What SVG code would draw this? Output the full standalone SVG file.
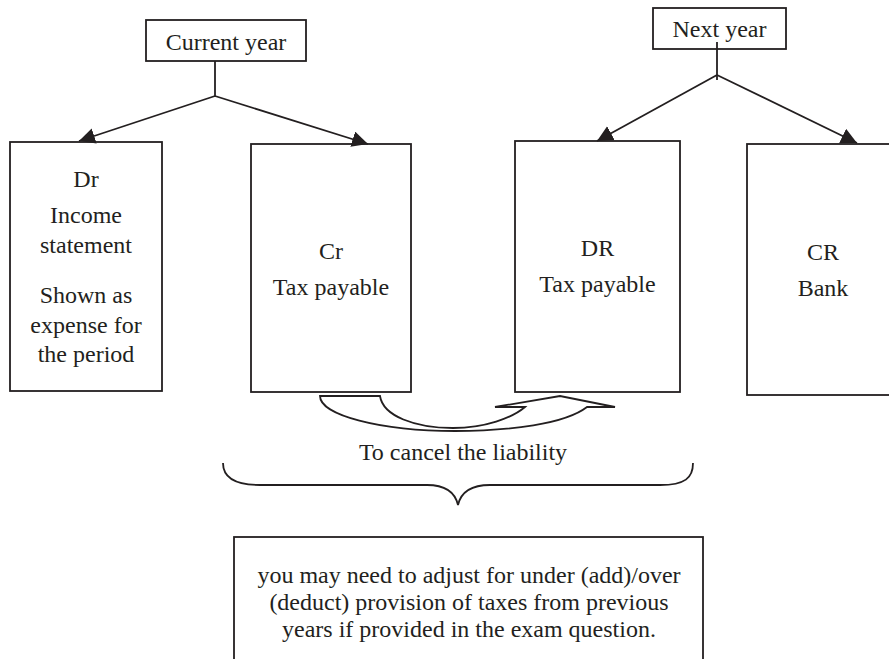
<svg xmlns="http://www.w3.org/2000/svg" width="889" height="659" viewBox="0 0 889 659">
  <style>
    .box { fill: #ffffff; stroke: #231f20; stroke-width: 1.8; }
    .line { fill: none; stroke: #231f20; stroke-width: 1.8; }
    .txt { font-family: "Liberation Serif", "Times New Roman", serif; font-size: 24px; fill: #231f20; text-anchor: middle; }
  </style>
  <defs>
    <marker id="arrow" markerUnits="userSpaceOnUse" markerWidth="18" markerHeight="18" refX="16" refY="8" orient="auto">
      <path d="M0,0 L16,8 L0,16 Z" fill="#231f20"/>
    </marker>
  </defs>
  <rect width="889" height="659" fill="#ffffff"/>

  <g id="current-year">
    <rect class="box" x="146" y="20" width="160" height="41"/>
    <text class="txt" x="226" y="50">Current year</text>
  </g>

  <g id="next-year">
    <rect class="box" x="653" y="8" width="133" height="41"/>
    <text class="txt" x="719.5" y="37">Next year</text>
  </g>

  <g id="dr-income-statement">
    <rect class="box" x="10" y="142" width="152" height="249"/>
    <text class="txt" x="86" y="187">Dr</text>
    <text class="txt" x="86" y="223">Income</text>
    <text class="txt" x="86" y="253">statement</text>
    <text class="txt" x="86" y="303">Shown as</text>
    <text class="txt" x="86" y="333">expense for</text>
    <text class="txt" x="86" y="362">the period</text>
  </g>

  <g id="cr-tax-payable">
    <rect class="box" x="251" y="144" width="160" height="248"/>
    <text class="txt" x="331" y="259">Cr</text>
    <text class="txt" x="331" y="295">Tax payable</text>
  </g>

  <g id="dr-tax-payable">
    <rect class="box" x="515" y="141" width="165" height="251"/>
    <text class="txt" x="597.5" y="256">DR</text>
    <text class="txt" x="597.5" y="292">Tax payable</text>
  </g>

  <g id="cr-bank">
    <rect class="box" x="747" y="144" width="160" height="251"/>
    <text class="txt" x="823" y="260">CR</text>
    <text class="txt" x="823" y="296">Bank</text>
  </g>

  <g id="note">
    <rect class="box" x="234" y="537" width="469" height="140"/>
    <text class="txt" x="469" y="583">you may need to adjust for under (add)/over</text>
    <text class="txt" x="469" y="610">(deduct) provision of taxes from previous</text>
    <text class="txt" x="469" y="637">years if provided in the exam question.</text>
  </g>

  <g id="connectors">
    <!-- current year split -->
    <line class="line" x1="215" y1="61" x2="215" y2="97"/>
    <line class="line" x1="215" y1="96" x2="79" y2="141" marker-end="url(#arrow)"/>
    <line class="line" x1="215" y1="96" x2="368" y2="144" marker-end="url(#arrow)"/>
    <!-- next year split -->
    <line class="line" x1="717" y1="42" x2="717" y2="80"/>
    <line class="line" x1="717" y1="75" x2="597" y2="141" marker-end="url(#arrow)"/>
    <line class="line" x1="717" y1="75" x2="857" y2="143" marker-end="url(#arrow)"/>
    <!-- curved block arrow: Cr tax payable to DR tax payable -->
    <path class="line" d="M320,396 H380 C383,416 415,428 453,428 C485,428 512,418 525,407 H495 L560,396 L615,407 H587 C565,424 510,431 455,431 C380,431 320,415 320,396 Z"/>
    <!-- brace -->
    <path class="line" d="M223,463 C223,478 235,485 260,485 H427 C445,485 455,492 458,505 C461,492 471,485 490,485 H660 C685,485 693,478 693,463"/>
  </g>
  <text class="txt" x="463" y="460">To cancel the liability</text>
</svg>
